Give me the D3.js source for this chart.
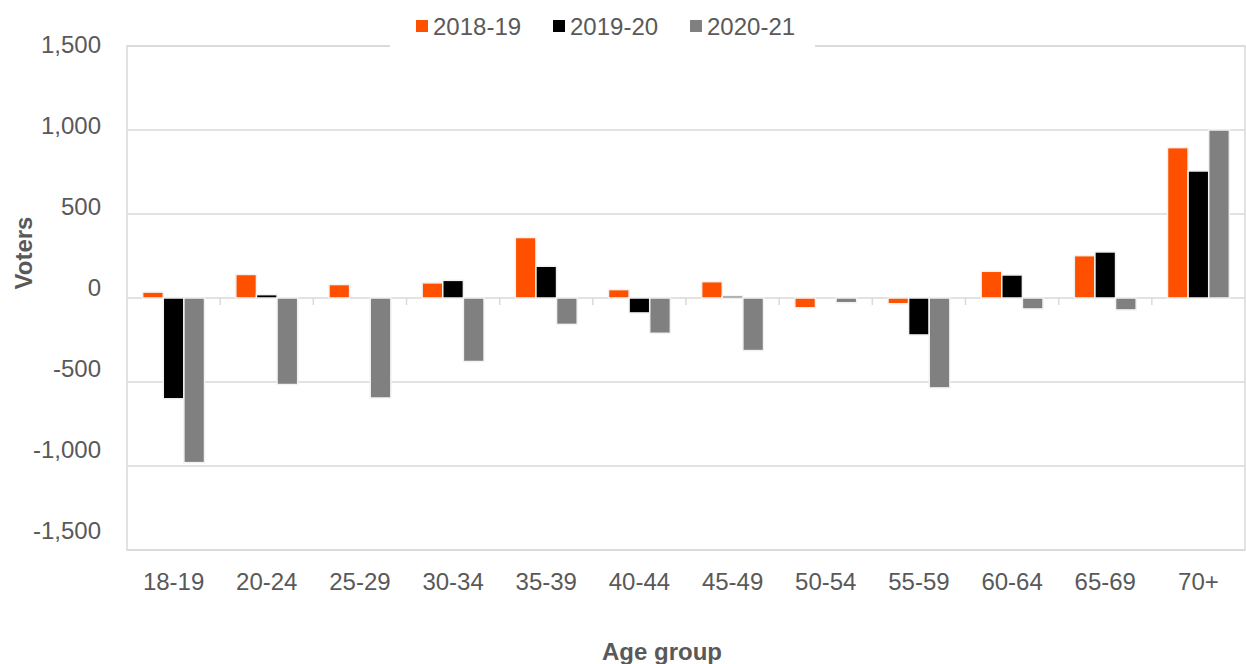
<!DOCTYPE html>
<html>
<head>
<meta charset="utf-8">
<script src="https://cdn.jsdelivr.net/npm/d3@7"></script>
<style>
  body { margin: 0; background: #fff; }
  svg { display: block; font-family: 'Liberation Sans', Arial, sans-serif; }
  .tick-label { fill: #595959; font-size: 24px; }
  .axis-title { fill: #595959; font-size: 24px; font-weight: bold; }
</style>
</head>
<body>
<svg class="chart"></svg>
<script>
const ageGroups = ['18-19', '20-24', '25-29', '30-34', '35-39', '40-44', '45-49', '50-54', '55-59', '60-64', '65-69', '70+']
const seriesNames = ['2018-19', '2019-20', '2020-21']
const values2018 = [35, 140, 80, 90, 360, 50, 97, -58, -34, 159, 252, 895]
const values2019 = [-600, 20, 0, 105, 189, -89, 12, 0, -220, 137, 274, 756]
const values2020 = [-980, -515, -595, -378, -157, -210, -313, -28, -535, -65, -71, 1000]
const yTicks = [-1500, -1000, -500, 0, 500, 1000, 1500]
const colors = ['#ff5000', '#000000', '#808080']

const width = 1246
const height = 664
const plot = { left: 127, right: 1245, top: 46, bottom: 550 }

const svg = d3.select('.chart').attr('width', width).attr('height', height)

const x0 = d3.scaleBand()
    .domain(ageGroups)
    .range([plot.left, plot.right])

const bw = x0.bandwidth()
const x1 = d3.scaleBand()
    .domain(seriesNames)
    .range([bw * 0.168, bw * 0.832])

const y = d3.scaleLinear()
    .domain([-1500, 1500])
    .range([plot.bottom, plot.top])

// tick labels sit slightly off their gridlines in the original
const yLabel = d3.scaleLinear()
    .domain([-1500, 1500])
    .range([531, 45])

// gridlines
svg.append('g').selectAll('line')
        .data(yTicks)
    .enter().append('line')
        .attr('x1', plot.left)
        .attr('x2', plot.right)
        .attr('y1', d => y(d))
        .attr('y2', d => y(d))
        .attr('stroke', '#d9d9d9')
        .attr('stroke-width', 1.5)

// frame
svg.append('rect')
    .attr('x', plot.left)
    .attr('y', plot.top)
    .attr('width', plot.right - plot.left)
    .attr('height', plot.bottom - plot.top)
    .attr('fill', 'none')
    .attr('stroke', '#d9d9d9')
    .attr('stroke-width', 1.5)

// category tick marks under zero line
svg.append('g').selectAll('line')
        .data(ageGroups.slice(1))
    .enter().append('line')
        .attr('x1', d => x0(d))
        .attr('x2', d => x0(d))
        .attr('y1', y(0))
        .attr('y2', y(0) + 7)
        .attr('stroke', '#d9d9d9')
        .attr('stroke-width', 1.5)

// bars
const series = seriesNames.map((name, i) => ({
    name,
    color: colors[i],
    values: [values2018, values2019, values2020][i]
}))

series.forEach(s => {
    svg.append('g').selectAll('rect')
            .data(ageGroups.map((g, i) => ({ g, v: s.values[i] })))
        .enter().append('rect')
            .attr('x', d => x0(d.g) + x1(s.name))
            .attr('width', x1.bandwidth())
            .attr('y', d => y(Math.max(0, d.v)))
            .attr('height', d => Math.abs(y(d.v) - y(0)))
            .attr('fill', s.color)
            .attr('stroke', '#f2f2f2')
            .attr('stroke-width', 1.5)
})

// y labels
svg.append('g').selectAll('text')
        .data(yTicks)
    .enter().append('text')
        .attr('class', 'tick-label')
        .attr('x', 101)
        .attr('y', d => yLabel(d))
        .attr('dy', '0.35em')
        .attr('text-anchor', 'end')
        .text(d => d3.format(',')(d).replace('−', '-'))

// x labels
svg.append('g').selectAll('text')
        .data(ageGroups)
    .enter().append('text')
        .attr('class', 'tick-label')
        .attr('x', d => x0(d) + bw / 2)
        .attr('y', 590)
        .attr('text-anchor', 'middle')
        .text(d => d)

// axis titles
svg.append('text')
    .attr('class', 'axis-title')
    .attr('x', 662)
    .attr('y', 660)
    .attr('text-anchor', 'middle')
    .text('Age group')

svg.append('text')
    .attr('class', 'axis-title')
    .attr('transform', 'translate(32, 253) rotate(-90)')
    .attr('text-anchor', 'middle')
    .text('Voters')

// legend
svg.append('rect')
    .attr('x', 390).attr('y', 0)
    .attr('width', 425).attr('height', 47)
    .attr('fill', '#fff')

const legendX = [416, 553, 690]
const legend = svg.append('g').selectAll('g')
        .data(series)
    .enter().append('g')
        .attr('transform', (d, i) => `translate(${legendX[i]}, 0)`)

legend.append('rect')
    .attr('x', 0).attr('y', 20)
    .attr('width', 12).attr('height', 12)
    .attr('fill', d => d.color)

legend.append('text')
    .attr('class', 'tick-label')
    .attr('x', 17)
    .attr('y', 35)
    .text(d => d.name)
</script>
</body>
</html>
